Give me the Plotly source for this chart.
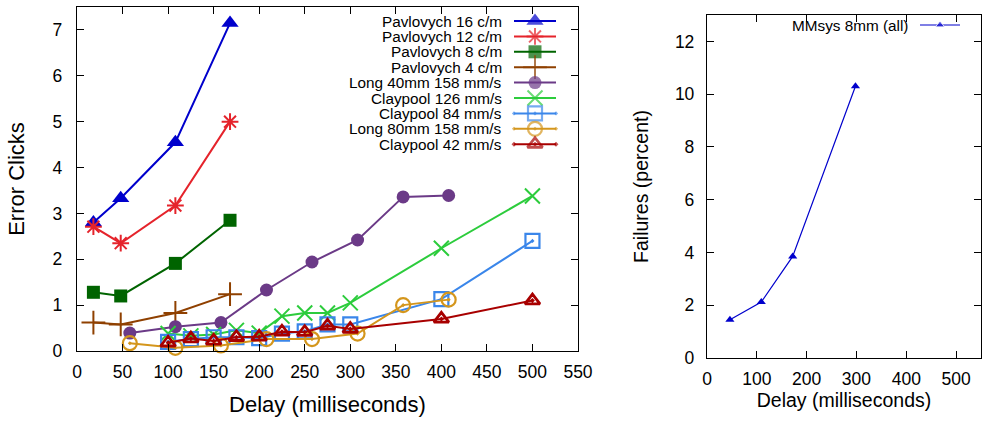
import plotly.graph_objects as go

# ---------------- data ----------------
pav_x = [18, 48, 108, 168]
pav16 = [2.8, 3.33, 4.55, 7.15]
pav12 = [2.71, 2.35, 3.17, 5.0]
pav8 = [1.28, 1.2, 1.91, 2.85]
pav4 = [0.62, 0.58, 0.83, 1.24]

long_x = [58, 108, 158, 208, 258, 308, 358, 408]
long40 = [0.39, 0.53, 0.62, 1.33, 1.94, 2.42, 3.36, 3.39]
long80 = [0.17, 0.07, 0.12, 0.26, 0.26, 0.38, 1.0, 1.12]

clay_x = [100, 125, 150, 175, 200, 225, 250, 275, 300, 400, 500]
clay126 = [0.38, 0.33, 0.36, 0.45, 0.39, 0.76, 0.83, 0.83, 1.05, 2.24, 3.38]
clay84 = [0.2, 0.26, 0.3, 0.3, 0.28, 0.38, 0.43, 0.58, 0.58, 1.13, 2.4]
clay42 = [0.18, 0.27, 0.22, 0.3, 0.31, 0.42, 0.41, 0.55, 0.48, 0.7, 1.1]

mm_x = [46, 109, 172, 298]
mm_y = [1.45, 2.12, 3.85, 10.3]

names = ["Pavlovych 16 c/m", "Pavlovych 12 c/m", "Pavlovych 8 c/m", "Pavlovych 4 c/m",
         "Long 40mm 158 mm/s", "Claypool 126 mm/s", "Claypool 84 mm/s",
         "Long 80mm 158 mm/s", "Claypool 42 mm/s"]
xs = [pav_x, pav_x, pav_x, pav_x, long_x, clay_x, clay_x, long_x, clay_x]
ys = [pav16, pav12, pav8, pav4, long40, clay126, clay84, long80, clay42]

left_x_ticks = list(range(0, 551, 50))
left_y_ticks = list(range(0, 8))
right_x_ticks = list(range(0, 501, 100))
right_y_ticks = list(range(0, 13, 2))

# ---------------- styles ----------------
colors = ["#0000cc", "#e5232b", "#006400", "#8f4000", "#6b3a87",
          "#2ccc3c", "#3a86ea", "#d4961c", "#a80000"]
symbols = ["triangle-up", "asterisk-open", "square", "cross-thin-open", "circle",
           "x-thin-open", "square-open-dot", "circle-open-dot", "triangle-up-open-dot"]
sizes = [15, 14, 13, 17, 13, 15, 14, 14, 13]
mlw = [0, 2, 0, 2, 0, 2, 2.2, 2.2, 2.8]

FONT = "Liberation Sans, Arial, sans-serif"
W, H = 984, 422

fig = go.Figure()

for i in range(len(names)):
    fig.add_trace(go.Scatter(
        x=xs[i], y=ys[i], mode="lines+markers", name=names[i],
        line=dict(color=colors[i], width=2),
        marker=dict(symbol=symbols[i], size=sizes[i], color=colors[i],
                    line=dict(color=colors[i], width=mlw[i])),
        xaxis="x", yaxis="y", showlegend=False, cliponaxis=False))

fig.add_trace(go.Scatter(
    x=mm_x, y=mm_y, mode="lines+markers", name="MMsys 8mm (all)",
    line=dict(color="#0000cc", width=1.2),
    marker=dict(symbol="triangle-up", size=8, color="#0000cc"),
    xaxis="x2", yaxis="y2", showlegend=False))

# ---------------- gnuplot-style legends (pixel overlay axis) ----------------
leg_top, leg_step = 21, 15.4
txt_right, ln0, ln1 = 504, 514, 556
annotations = []
for i in range(len(names)):
    yy = leg_top + i * leg_step
    fig.add_trace(go.Scatter(
        x=[ln0, (ln0 + ln1) / 2, ln1], y=[yy, yy, yy], mode="lines+markers",
        line=dict(color=colors[i], width=2),
        marker=dict(symbol=symbols[i], size=[0, sizes[i], 0], color=colors[i],
                    line=dict(color=colors[i], width=mlw[i])),
        xaxis="x3", yaxis="y3", showlegend=False, hoverinfo="skip"))
    annotations.append(dict(x=txt_right, y=yy, xref="x3", yref="y3", text=names[i],
                            showarrow=False, xanchor="right", yanchor="middle",
                            font=dict(family=FONT, size=15.3, color="black")))

fig.add_trace(go.Scatter(
    x=[920, 940, 960], y=[25, 25, 25], mode="lines+markers",
    line=dict(color="#0000cc", width=1.2),
    marker=dict(symbol="triangle-up", size=[0, 8, 0], color="#0000cc"),
    xaxis="x3", yaxis="y3", showlegend=False, hoverinfo="skip"))
annotations.append(dict(x=910, y=25, xref="x3", yref="y3", text="MMsys 8mm (all)",
                        showarrow=False, xanchor="right", yanchor="middle",
                        font=dict(family=FONT, size=15.3, color="black")))

axis_common = dict(showline=True, linecolor="black", linewidth=1.3, mirror="allticks",
                   ticks="inside", ticklen=7, tickcolor="black", tickwidth=1,
                   showgrid=False, zeroline=False, automargin=False,
                   tickfont=dict(family=FONT, size=17.5, color="black"))

fig.update_layout(
    width=W, height=H,
    margin=dict(l=0, r=0, t=0, b=0, autoexpand=False),
    paper_bgcolor="white", plot_bgcolor="rgba(0,0,0,0)",
    font=dict(family=FONT, color="black"),
    showlegend=False,
    xaxis=dict(domain=[77 / W, 578 / W], range=[0, 550], tickvals=left_x_ticks,
               anchor="y", ticklabelstandoff=5,
               title=dict(text="Delay (milliseconds)", standoff=15,
                          font=dict(family=FONT, size=22)), **axis_common),
    yaxis=dict(domain=[1 - 351 / H, 1 - 7 / H], range=[0, 7.5], tickvals=left_y_ticks,
               anchor="x", ticklabelstandoff=10,
               title=dict(text="Error Clicks", standoff=21,
                          font=dict(family=FONT, size=22)), **axis_common),
    xaxis2=dict(domain=[707 / W, 981 / W], range=[0, 550], tickvals=right_x_ticks,
                anchor="y2", ticklabelstandoff=5,
                title=dict(text="Delay (milliseconds)", standoff=2,
                           font=dict(family=FONT, size=19.5)), **axis_common),
    yaxis2=dict(domain=[1 - 358 / H, 1 - 15 / H], range=[0, 13], tickvals=right_y_ticks,
                anchor="x2", ticklabelstandoff=8,
                title=dict(text="Failures (percent)", standoff=21,
                           font=dict(family=FONT, size=19.5)), **axis_common),
    xaxis3=dict(domain=[0, 1], range=[0, W], visible=False, anchor="y3",
                fixedrange=True, automargin=False),
    yaxis3=dict(domain=[0, 1], range=[H, 0], visible=False, anchor="x3",
                fixedrange=True, automargin=False),
    annotations=annotations,
)

fig.write_html("out.html", config={"displayModeBar": False},
               post_script="document.body.style.margin='0';document.body.style.overflow='hidden';")
